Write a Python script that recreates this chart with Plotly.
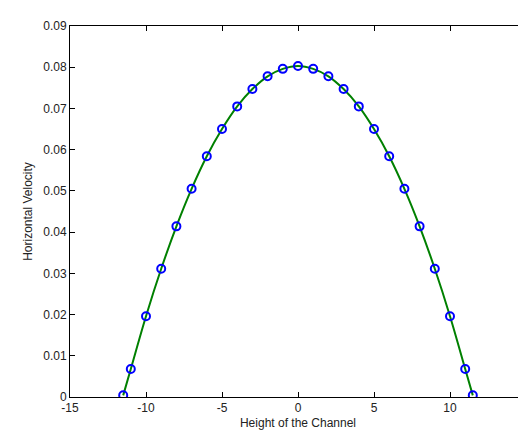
import plotly.graph_objects as go

x_vals = [-11.5, -11, -10, -9, -8, -7, -6, -5, -4, -3, -2, -1, 0,
          1, 2, 3, 4, 5, 6, 7, 8, 9, 10, 11, 11.5]
v_vals = [0.0004, 0.0068, 0.0196, 0.0311, 0.0414, 0.0505, 0.0584, 0.0650, 0.0705, 0.0747, 0.0778, 0.0796, 0.0803,
          0.0796, 0.0778, 0.0747, 0.0705, 0.0650, 0.0584, 0.0505, 0.0414, 0.0311, 0.0196, 0.0068, 0.0004]

x_ticks = [-15, -10, -5, 0, 5, 10, 15]
y_ticks = [0, 0.01, 0.02, 0.03, 0.04, 0.05, 0.06, 0.07, 0.08, 0.09]
y_tick_text = ["0", "0.01", "0.02", "0.03", "0.04", "0.05", "0.06", "0.07", "0.08", "0.09"]

fig = go.Figure()
fig.add_trace(go.Scatter(x=x_vals, y=v_vals, mode="lines",
                         line=dict(color="#008000", width=2, shape="spline"),
                         showlegend=False, hoverinfo="skip"))
fig.add_trace(go.Scatter(x=x_vals, y=v_vals, mode="markers",
                         marker=dict(symbol="circle-open", size=8, color="#0000ff",
                                     line=dict(width=2, color="#0000ff")),
                         showlegend=False))

axis_common = dict(showgrid=False, zeroline=False, showline=True, linecolor="black",
                   linewidth=1, mirror="ticks", ticks="inside", ticklen=5,
                   tickcolor="black", tickfont=dict(size=12, color="#222222"),
                   automargin=False)

fig.update_layout(
    width=526, height=432,
    margin=dict(l=62, r=8, t=18, b=43),
    paper_bgcolor="white", plot_bgcolor="white",
    font=dict(family="Liberation Sans, Arial, sans-serif", size=12, color="#222222"),
    xaxis=dict(range=[-15, 15], tickvals=x_ticks, ticktext=[str(t) for t in x_ticks],
               title=dict(text="Height of the Channel", font=dict(size=12), standoff=4),
               **axis_common),
    yaxis=dict(range=[0, 0.09], tickvals=y_ticks, ticktext=y_tick_text,
               title=dict(text="Horizontal Velocity", font=dict(size=12), standoff=8),
               **axis_common),
)

fig.write_html("out.html")
